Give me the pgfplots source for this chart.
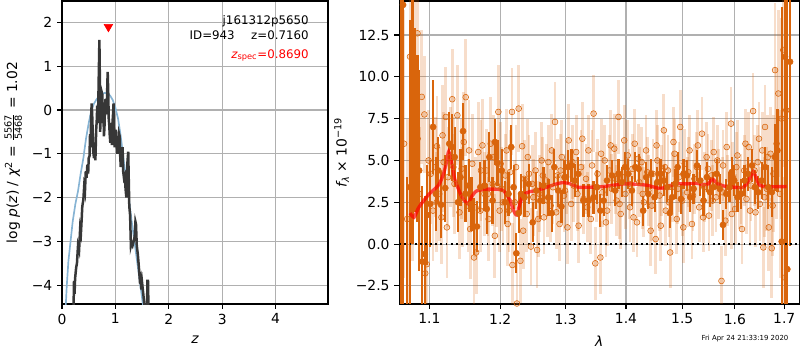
\documentclass[border=0pt]{standalone}
\usepackage{fontspec}
\setmainfont{DejaVu Sans}
\usepackage{pgfplots}
\usepackage{pgfplotstable}
\pgfplotsset{compat=1.18}
\definecolor{dkor}{RGB}{217,101,12}
\definecolor{bluec}{RGB}{135,180,212}
\definecolor{gridc}{RGB}{176,176,176}
\definecolor{blk}{RGB}{55,55,55}

\pgfplotstableread{
l f e
1.0620 -6.0 22
1.0652 14.3 20
1.0700 -4.0 8
1.0741 3.4 10
1.0775 8.0 8
1.0807 7.4 5.5
1.0841 6.3 5
1.0864 4.4 6
1.0907 -1.05 4.5
1.0939 -0.6 3.5
1.0974 1.75 3.0
1.1014 2.4 2.6
1.1052 7.0 2.8
1.1090 3.0 2.2
1.1122 4.4 2.0
1.1160 2.35 2.0
1.1217 3.35 2.0
1.1273 6.0 1.9
1.1310 5.8 2.0
1.1348 5.2 1.8
1.1394 2.5 1.8
1.1428 4.0 1.7
1.1465 6.75 1.7
1.1498 3.0 1.7
1.1545 3.5 1.6
1.1583 2.4 1.6
1.1615 1.05 1.7
1.1662 1.05 1.5
1.1710 3.4 1.5
1.1770 3.5 1.5
1.1803 2.1 1.5
1.1841 5.2 1.5
1.1887 2.6 1.4
1.1921 6.1 1.4
1.1958 4.85 1.4
1.2021 4.4 1.3
1.2072 2.5 1.3
1.2122 3.0 1.3
1.2163 5.8 1.3
1.2198 3.4 1.3
1.2239 -0.55 1.2
1.2274 1.85 1.2
1.2310 3.0 1.2
1.2361 2.8 1.2
1.2426 3.6 1.2
1.2487 1.3 1.2
1.2543 3.2 1.1
1.2604 2.6 1.1
1.2654 3.5 1.1
1.2730 2.8 1.1
1.2782 1.85 1.1
1.2822 4.6 1.1
1.2883 3.2 1.0
1.2934 2.25 1.0
1.2984 4.0 1.0
1.3038 4.6 1.0
1.3095 4.7 1.0
1.3150 3.8 1.0
1.3205 4.2 1.0
1.3288 2.6 1.0
1.3372 2.6 1.0
1.3455 2.8 1.0
1.3512 3.4 1.0
1.3567 2.0 1.0
1.3622 2.6 0.9
1.3678 3.8 0.9
1.3762 4.1 0.9
1.3817 3.2 0.9
1.3872 4.2 0.9
1.3928 3.7 0.9
1.3983 4.6 0.9
1.4041 4.2 0.9
1.4102 3.2 0.9
1.4161 4.6 0.9
1.4220 4.5 0.9
1.4298 2.0 0.9
1.4352 4.0 0.9
1.4388 3.0 0.9
1.4441 4.2 0.9
1.4500 2.8 0.9
1.4548 3.7 0.9
1.4607 4.2 0.9
1.4666 3.8 0.9
1.4727 3.4 0.9
1.4773 1.85 0.9
1.4816 2.8 0.9
1.4875 3.6 0.9
1.4916 4.6 0.9
1.4977 2.7 0.9
1.5024 4.2 0.9
1.5088 4.1 0.9
1.5149 2.8 0.9
1.5210 3.3 0.9
1.5274 4.7 0.9
1.5335 3.8 0.9
1.5397 2.6 0.9
1.5460 4.0 0.9
1.5521 3.1 0.9
1.5583 3.4 0.9
1.5646 4.2 0.9
1.5708 3.3 0.9
1.5769 1.15 0.9
1.5832 3.0 0.9
1.5894 3.4 0.9
1.5937 4.3 0.9
1.5987 3.8 0.9
1.6054 2.8 0.9
1.6123 3.0 0.9
1.6191 3.8 0.9
1.6259 4.2 1.0
1.6342 4.7 1.0
1.6397 3.4 1.0
1.6465 3.1 1.0
1.6535 3.8 1.1
1.6603 4.6 1.2
1.6671 3.4 1.3
1.6741 3.1 1.5
1.6809 5.2 2.0
1.6856 5.6 2.5
1.6947 0.15 14
1.7015 11.2 16
1.7063 -1.5 20
1.7120 10.9 11
}\darktab

\pgfplotstableread{
l f e
1.0665 6.0 8
1.0705 1.5 6
1.0743 11.2 4.5
1.0775 4.0 5
1.0809 11.05 4.5
1.0841 12.6 5
1.0870 3.0 4
1.0899 8.8 4
1.0934 7.75 3.5
1.0945 -1.75 3
1.0965 -1.2 3.5
1.0990 5.0 3
1.1020 4.2 3
1.1050 2.0 3
1.1080 4.6 3
1.1104 5.85 3
1.1135 3.0 2.8
1.1165 1.6 2.8
1.1195 4.9 3
1.1225 7.6 3
1.1255 4.0 3
1.1285 5.2 3
1.1314 8.66 3
1.1345 3.6 3
1.1385 7.7 3
1.1415 1.9 2.8
1.1445 4.5 3
1.1475 6.1 3
1.1502 8.78 3.5
1.1535 2.3 2.8
1.1565 0.9 3
1.1595 4.8 3
1.1620 -0.8 2.8
1.1650 -0.5 2.5
1.1680 5.5 3
1.1710 2.0 2.5
1.1740 5.9 2.8
1.1770 3.0 2.5
1.1800 4.4 2.5
1.1830 1.5 2.5
1.1860 6.0 2.8
1.1890 3.6 2.5
1.1920 0.5 2.5
1.1950 3.5 2.5
1.1972 7.9 2.8
1.2005 4.8 2.5
1.2040 2.5 2.5
1.2075 4.1 2.5
1.2110 1.2 2.5
1.2145 4.3 2.5
1.2174 7.9 2.6
1.2180 -1.25 2.5
1.2215 2.5 2.5
1.2247 -3.55 2.5
1.2274 8.1 2.6
1.2300 -1.0 2.5
1.2326 5.85 2.5
1.2360 3.9 2.3
1.2395 1.8 2.3
1.2430 4.2 2.3
1.2460 -0.15 2.3
1.2495 2.8 2.3
1.2530 4.4 2.3
1.2554 -0.35 2.3
1.2590 3.0 2.3
1.2625 5.0 2.3
1.2660 1.6 2.2
1.2695 3.8 2.2
1.2730 4.9 2.2
1.2765 2.3 2.2
1.2800 3.4 2.2
1.2833 7.3 2.4
1.2870 4.1 2.2
1.2905 1.2 2.2
1.2940 5.2 2.2
1.2975 2.9 2.2
1.3010 4.0 2.2
1.3050 6.2 2.2
1.3090 2.4 2.2
1.3130 3.5 2.2
1.3170 5.5 2.2
1.3210 1.1 2.2
1.3250 4.6 2.2
1.3290 2.7 2.1
1.3330 3.9 2.1
1.3370 5.6 2.1
1.3410 1.5 2.1
1.3455 7.8 2.3
1.3483 -1.15 2.2
1.3520 4.2 2.1
1.3567 -0.8 2.2
1.3600 3.1 2.1
1.3640 5.0 2.1
1.3680 2.0 2.1
1.3720 4.4 2.1
1.3760 3.3 2.1
1.3800 5.7 2.1
1.3840 2.6 2.1
1.3872 7.6 2.2
1.3910 1.8 2.1
1.3950 4.0 2.1
1.3990 3.0 2.1
1.4030 5.3 2.1
1.4070 2.2 2.1
1.4110 4.5 2.1
1.4150 6.0 2.1
1.4190 1.3 2.1
1.4230 3.7 2.1
1.4270 4.9 2.1
1.4310 2.5 2.1
1.4350 5.6 2.1
1.4390 3.2 2.1
1.4430 0.8 2.1
1.4470 4.2 2.1
1.4518 0.3 2.1
1.4550 5.0 2.1
1.4590 2.9 2.1
1.4630 3.8 2.1
1.4666 6.8 2.2
1.4700 2.0 2.1
1.4740 4.4 2.1
1.4780 -0.5 2.1
1.4820 3.4 2.1
1.4860 5.4 2.1
1.4900 1.5 2.1
1.4940 4.0 2.1
1.4964 7.0 2.2
1.5000 2.6 2.1
1.5045 4.8 2.1
1.5090 3.1 2.1
1.5135 5.6 2.1
1.5180 1.2 2.1
1.5225 3.9 2.1
1.5270 4.6 2.1
1.5315 2.2 2.1
1.5367 6.6 2.2
1.5410 3.4 2.1
1.5455 5.2 2.1
1.5500 1.7 2.1
1.5545 4.1 2.1
1.5590 5.5 2.1
1.5635 2.8 2.1
1.5680 3.6 2.1
1.5739 -2.2 2.1
1.5770 4.7 2.1
1.5815 1.4 2.1
1.5860 3.2 2.1
1.5925 7.2 2.2
1.5960 4.0 2.1
1.6005 2.1 2.1
1.6050 5.3 2.1
1.6095 3.0 2.1
1.6140 0.9 2.1
1.6185 4.4 2.1
1.6230 2.7 2.1
1.6275 5.8 2.1
1.6320 3.5 2.1
1.6362 7.95 2.3
1.6410 1.9 2.1
1.6455 4.9 2.2
1.6500 2.4 2.2
1.6545 5.6 2.3
1.6568 -0.2 2.4
1.6603 7.0 2.5
1.6640 3.3 2.5
1.6680 1.0 2.6
1.6715 5.4 2.8
1.6741 -0.25 3
1.6775 4.2 3.5
1.6809 10.4 4
1.6840 6.0 4.5
1.6877 9.0 5
1.6910 3.0 5
1.6945 7.5 6
1.6980 11.6 7
1.7010 -2.0 6
1.7040 8.0 8
1.1100 2.5 3
1.1180 6.5 3
1.1240 1.0 3
1.1330 4.6 3
1.1460 2.8 3
1.1550 5.6 3
1.1640 2.2 3
1.1720 4.4 3
1.1820 3.0 2.5
1.1905 5.2 2.5
1.1990 2.0 2.5
1.2020 3.3 2.5
1.2092 5.6 2.5
1.2128 2.0 2.5
1.2235 4.6 2.5
1.2342 0.8 2.3
1.2412 5.2 2.3
1.2478 3.6 2.3
1.2572 1.5 2.3
1.2643 4.1 2.3
1.2712 2.6 2.2
1.2782 5.6 2.2
1.2852 1.9 2.2
1.2922 4.4 2.2
1.2992 3.2 2.2
1.3030 1.0 2.2
1.3110 4.9 2.2
1.3190 3.0 2.2
1.3270 6.3 2.2
1.3350 2.2 2.1
1.3430 4.7 2.1
1.3500 3.4 2.1
1.3580 5.4 2.1
1.3660 1.3 2.1
1.3740 5.9 2.1
1.3820 3.9 2.1
1.3890 2.4 2.1
1.3970 6.2 2.1
1.4050 3.6 2.1
1.4130 1.6 2.1
1.4210 5.1 2.1
1.4290 3.0 2.1
1.4370 4.3 2.1
1.4450 2.3 2.1
1.4535 5.9 2.1
1.4610 1.1 2.1
1.4685 4.6 2.1
1.4760 2.5 2.1
1.4840 6.1 2.1
1.4920 3.3 2.1
1.5020 1.0 2.1
1.5110 4.3 2.1
1.5200 2.9 2.1
1.5290 5.9 2.1
1.5390 1.6 2.1
1.5480 4.5 2.1
1.5570 2.6 2.1
1.5660 5.0 2.1
1.5755 3.1 2.1
1.5840 5.8 2.1
1.5940 1.8 2.1
1.6030 4.6 2.1
1.6120 3.3 2.1
1.6210 6.0 2.1
1.6300 2.0 2.1
1.6390 4.4 2.1
1.6480 6.3 2.2
1.6590 2.8 2.4
1.6660 5.2 2.5
1.6760 2.3 3
}\lighttab

\pgfplotstableread{
l f
1.0743 1.85
1.0796 1.6
1.0860 2.2
1.0988 2.94
1.1128 3.54
1.1197 4.24
1.1240 5.0
1.1265 5.53
1.1306 4.84
1.1352 3.84
1.1446 2.84
1.1539 2.4
1.1587 2.84
1.1658 3.18
1.1802 3.28
1.1948 3.28
1.2045 3.2
1.2144 2.64
1.2193 2.04
1.2244 1.74
1.2294 2.44
1.2344 2.94
1.2446 3.14
1.2548 3.2
1.2703 3.4
1.2860 3.6
1.2964 3.68
1.3071 3.6
1.3205 3.4
1.3396 3.4
1.3616 3.44
1.3955 3.6
1.4069 3.6
1.4361 3.52
1.4597 3.32
1.4717 3.44
1.4899 3.6
1.5083 3.6
1.5269 3.64
1.5393 3.55
1.5487 3.6
1.5563 3.9
1.5647 3.64
1.5774 3.48
1.5970 3.4
1.6166 3.4
1.6266 3.74
1.6366 4.33
1.6467 3.64
1.6568 3.44
1.7050 3.44
}\modeltab

\pgfplotsset{mpl/.style={scale only axis, axis line style={line width=0.8pt}, grid=major,
  major grid style={gridc, line width=0.8pt}, tick align=outside, tick pos=left,
  major tick length=3.5pt, tick style={black, line width=0.8pt},
  ticklabel style={font=\fontsize{10}{12}\selectfont},
  label style={font=\fontsize{10}{12}\selectfont}}}

\begin{document}
\begin{tikzpicture}
\useasboundingbox (0,0) rectangle (576pt,252pt);
% left panel
\begin{axis}[mpl, at={(44.64pt,33.12pt)}, anchor=south west,
  width=191.52pt, height=218.16pt,
  xmin=0, xmax=4.98, ymin=-4.43, ymax=2.49,
  xtick={0,1,2,3,4}, xticklabels={0,1,2,3,4},
  ytick={-4,-3,-2,-1,0,1,2}, yticklabels={−4,−3,−2,−1,0,1,2},
  xlabel={\itshape z},
  xlabel style={at={(axis description cs:0.5,-0.117)}, anchor=center},
  ylabel={log {\itshape p}({\itshape z}) / {\itshape χ}\textsuperscript{2} = $\frac{\mbox{\fontsize{7}{7}\selectfont 5567}}{\mbox{\fontsize{7}{7}\selectfont 5468}}$ = 1.02},
  ylabel style={at={(axis description cs:-0.183,0.5)}, anchor=center}]
\addplot[bluec, line width=1.2pt] coordinates {
(0.065,-4.6) (0.09,-4.0) (0.12,-3.45) (0.16,-3.0) (0.20,-2.55) (0.25,-2.15)
(0.30,-1.85) (0.35,-1.45) (0.40,-1.1) (0.45,-0.65) (0.50,-0.3) (0.55,0.0)
(0.60,0.15) (0.65,0.25) (0.70,0.32) (0.75,0.37) (0.80,0.39) (0.85,0.38)
(0.90,0.33) (0.95,0.23) (1.00,0.05) (1.05,-0.2) (1.10,-0.6) (1.15,-1.1)
(1.20,-1.55) (1.25,-2.0) (1.30,-2.5) (1.35,-2.95) (1.40,-3.4) (1.45,-3.85)
(1.50,-4.3) (1.53,-4.6)};
\addplot[blk, line width=1.8pt] coordinates {
(0.215,-4.6) (0.225,-3.9) (0.235,-4.2) (0.245,-3.85) (0.265,-3.6) (0.28,-3.5)
(0.30,-3.1) (0.32,-3.2) (0.34,-2.7) (0.355,-2.8) (0.37,-2.45) (0.38,-2.2)
(0.40,-2.05) (0.415,-1.75) (0.43,-1.85) (0.445,-1.4) (0.46,-1.55) (0.475,-1.25)
(0.49,-1.45) (0.50,-1.1) (0.515,-1.05) (0.525,-0.55) (0.535,-0.85) (0.545,-0.2)
(0.555,0.15) (0.565,-0.1) (0.575,-0.5) (0.585,-0.95) (0.60,-1.1) (0.615,-0.85)
(0.625,-1.15) (0.64,-0.45) (0.65,-0.25) (0.66,0.1) (0.67,-0.3) (0.68,0.2)
(0.69,0.9) (0.70,1.6) (0.71,0.6) (0.715,-0.5) (0.725,0.1) (0.735,-0.3)
(0.745,0.4) (0.755,0.35) (0.765,-0.2) (0.775,0.05) (0.785,-0.6) (0.795,-0.4)
(0.805,0.1) (0.815,0.25) (0.825,0.0) (0.835,-0.1) (0.845,0.4) (0.855,0.87)
(0.865,0.45) (0.875,-0.2) (0.885,-0.35) (0.895,-0.6) (0.905,-0.75) (0.915,-0.3)
(0.925,-0.5) (0.935,-0.8) (0.945,-0.3) (0.955,-0.1) (0.965,0.15) (0.975,-0.5)
(0.985,-0.85) (0.995,-0.6) (1.01,-0.45) (1.02,-0.7) (1.035,-1.0) (1.045,-0.75)
(1.055,-0.95) (1.07,-0.55) (1.08,-0.6) (1.09,-1.05) (1.10,-1.3) (1.115,-0.9)
(1.125,-1.1) (1.135,-0.85) (1.145,-1.4) (1.16,-1.55) (1.175,-1.5) (1.19,-1.8)
(1.205,-2.0) (1.215,-1.7) (1.225,-1.2) (1.24,-0.95) (1.25,-1.6) (1.26,-2.2)
(1.275,-2.4) (1.29,-3.1) (1.30,-3.05) (1.32,-3.1) (1.34,-3.0) (1.36,-2.9)
(1.375,-2.55) (1.385,-2.6) (1.40,-3.1) (1.42,-3.3) (1.44,-3.6) (1.455,-3.85)
(1.47,-3.8) (1.485,-4.1) (1.50,-3.95) (1.53,-4.3) (1.555,-4.6) (1.59,-4.6)
(1.60,-3.9) (1.61,-3.9) (1.62,-4.6)};
\addplot[only marks, mark=triangle*, mark size=3.6pt,
  mark options={rotate=180, fill=red, draw=red}] coordinates {(0.869,1.9)};
\node[anchor=base east, font=\fontsize{8.5}{10}\selectfont] at (rel axis cs:0.9455,0.924) {j161312p5650};
\node[anchor=base east, font=\fontsize{8.5}{10}\selectfont] at (rel axis cs:0.9455,0.874) {ID=943\hspace{1.4em}z=0.7160};
\node[anchor=base east, font=\fontsize{8.5}{10}\selectfont, text=red] at (rel axis cs:0.9455,0.811) {{\itshape z}\textsubscript{spec}=0.8690};
\end{axis}
% right panel
\begin{axis}[mpl, at={(287.5pt,33.12pt)}, anchor=south west,
  width=288pt, height=218.16pt, xmode=log,
  xmin=1.0603, xmax=1.7316, ymin=-3.58, ymax=14.53,
  xtick={1.1,1.2,1.3,1.4,1.5,1.6,1.7}, xticklabels={1.1,1.2,1.3,1.4,1.5,1.6,1.7},
  ytick={-2.5,0,2.5,5,7.5,10,12.5}, yticklabels={−2.5,0.0,2.5,5.0,7.5,10.0,12.5},
  xlabel={\itshape λ},
  xlabel style={at={(axis description cs:0.5,-0.122)}, anchor=center},
  ylabel={{\itshape f}\textsubscript{\itshape λ} × 10\textsuperscript{−19}},
  ylabel style={at={(axis description cs:-0.144,0.5)}, anchor=center}]
\addplot[dkor, only marks, mark=*, mark size=2.1pt,
  mark options={draw=none, fill=dkor, fill opacity=0.22},
  error bars/.cd, y dir=both, y explicit, error mark=none,
  error bar style={line width=2pt, draw opacity=0.22}]
  table[x=l, y=f, y error=e] {\lighttab};
\addplot[dkor, only marks, mark=*, mark size=2.2pt,
  mark options={draw=none, fill=dkor},
  error bars/.cd, y dir=both, y explicit, error mark=none,
  error bar style={line width=1.6pt}]
  table[x=l, y=f, y error=e] {\darktab};
\addplot[black, line width=1.3pt, dash pattern=on 1.3pt off 2.4pt] coordinates {(1.0603,0) (1.7316,0)};
\addplot[red, line width=2.4pt, draw opacity=0.7, smooth, tension=0.4] table[x=l, y=f] {\modeltab};
\end{axis}
\node[font=\fontsize{5}{6}\selectfont] at (536.4pt,8.4pt) {Fri Apr 24 21:33:19 2020};
\end{tikzpicture}
\end{document}
